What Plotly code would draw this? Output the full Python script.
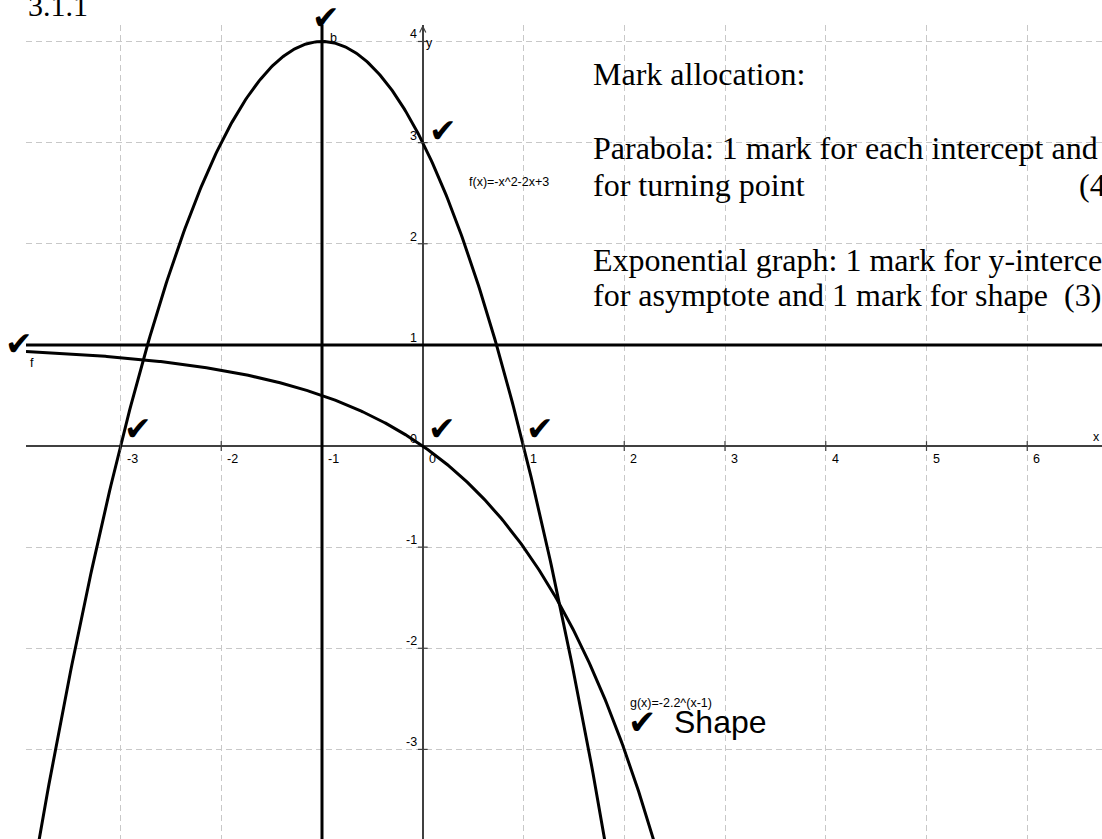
import numpy as np
import plotly.graph_objects as go

# ---- axes ----
x_ticks = [-3, -2, -1, 0, 1, 2, 3, 4, 5, 6]
y_ticks = [-3, -2, -1, 0, 1, 2, 3, 4]
x_range = [-3.938, 6.742]
y_range = [-3.886, 4.163]

# ---- parabola f(x) = -x^2 - 2x + 3 ----
f_coeffs = [-1, -2, 3]
f_roots = [-3, 1]
f_turning_point = [-1, 4]
f_y_intercept = [0, 3]
axis_of_symmetry = -1

# ---- exponential y = -2^x + 1 ----
g_base = 2
g_asymptote = 1
g_y_intercept = [0, 0]

SERIF = "Liberation Serif, Times New Roman, serif"
SANS = "Liberation Sans, Arial, sans-serif"
CHECK_FONT = "DejaVu Sans"
TICK = "\u2714"
AXIS_COLOR = "#404040"

xs = np.linspace(x_range[0], x_range[1], 800)

fig = go.Figure()

# parabola
fig.add_trace(go.Scatter(x=xs, y=np.polyval(f_coeffs, xs), mode="lines",
                         line=dict(color="black", width=3), hoverinfo="skip"))
# exponential
fig.add_trace(go.Scatter(x=xs, y=g_asymptote - np.power(float(g_base), xs), mode="lines",
                         line=dict(color="black", width=3), hoverinfo="skip"))

# axis of symmetry and asymptote
fig.add_vline(x=axis_of_symmetry, line=dict(color="black", width=3))
fig.add_hline(y=g_asymptote, line=dict(color="black", width=3))

# small tick marks on the axes
xt = [t for t in x_ticks if t != 0]
yt = [t for t in y_ticks if t != 0]
fig.add_trace(go.Scatter(x=xt, y=[0] * len(xt), mode="markers",
                         marker=dict(symbol="line-ns", size=7,
                                     line=dict(color=AXIS_COLOR, width=1.2)),
                         hoverinfo="skip"))
fig.add_trace(go.Scatter(x=[0] * len(yt), y=yt, mode="markers",
                         marker=dict(symbol="line-ew", size=7,
                                     line=dict(color=AXIS_COLOR, width=1.2)),
                         hoverinfo="skip"))

annotations = []


def note(text, x, y, size=12.5, family=SANS, xanchor="center", yanchor="middle",
         xshift=0, yshift=0, xref="x", yref="y"):
    annotations.append(dict(text=text, x=x, y=y, xref=xref, yref=yref,
                            showarrow=False, xanchor=xanchor, yanchor=yanchor,
                            xshift=xshift, yshift=yshift,
                            font=dict(family=family, size=size, color="black")))


def check(x, y, xshift, yshift, size=33):
    note(TICK, x, y, size=size, family=CHECK_FONT, xshift=xshift, yshift=yshift)


# tick labels
for t in x_ticks:
    note(str(t), t, 0, xanchor="left", xshift=4, yshift=-13)
for t in y_ticks:
    note(str(t), 0, t, xanchor="right", xshift=-4, yshift=7)

# axis names and arrow on the y-axis
note("y", 0, y_range[1], xshift=7, yshift=-18)
note("x", x_range[1], 0, xshift=-6, yshift=9)
annotations.append(dict(x=0, y=y_range[1], ax=0, ay=y_range[1] - 0.15,
                        xref="x", yref="y", axref="x", ayref="y",
                        showarrow=True, arrowhead=5, arrowsize=1, arrowwidth=1.2,
                        arrowcolor=AXIS_COLOR, text=""))

# object labels
note("f(x)=-x^2-2x+3", 0.439, 2.611, xanchor="left")
note("g(x)=-2.2^(x-1)", 2.039, -2.546, xanchor="left")
note("f", x_range[0], g_asymptote, xshift=6, yshift=-18)
note("b", f_turning_point[0], f_turning_point[1], xshift=11, yshift=3.5)

# ticks awarded
check(f_turning_point[0], f_turning_point[1], 4, 24)
check(f_y_intercept[0], f_y_intercept[1], 20, 12.5)
check(x_range[0], g_asymptote, -7, 1)
check(f_roots[0], 0, 17.5, 18)
check(f_roots[1], 0, 16.5, 18)
check(g_y_intercept[0], g_y_intercept[1], 19, 18)
check(2.18, -2.73, 0, 0, size=34)
note("Shape", 2.47, -2.725, size=32, family=SANS, xanchor="left")

# heading and mark allocation text
note("3.1.1", 0, 1.024, size=30, family=SERIF, xanchor="left", xref="paper", yref="paper")
note("Mark allocation:", 1.67, 3.679, size=32, family=SERIF, xanchor="left")
note("Parabola: 1 mark for each intercept and 1 mark", 1.67, 2.947, size=32, family=SERIF, xanchor="left")
note("for turning point", 1.67, 2.581, size=32, family=SERIF, xanchor="left")
note("(4)", 6.494, 2.581, size=32, family=SERIF, xanchor="left")
note("Exponential graph: 1 mark for y-intercept and 1 mark", 1.67, 1.839, size=32, family=SERIF, xanchor="left")
note("for asymptote and 1 mark for shape  (3)", 1.67, 1.493, size=32, family=SERIF, xanchor="left")

grid = dict(showgrid=True, gridcolor="#c8c8c8", gridwidth=1, griddash="6px,4px",
            dtick=1, tick0=0, ticks="", showticklabels=False, showline=False,
            zeroline=True, zerolinecolor=AXIS_COLOR)

fig.update_layout(
    width=1102, height=839,
    margin=dict(l=26, r=0, t=25, b=0),
    paper_bgcolor="white", plot_bgcolor="white",
    showlegend=False,
    xaxis=dict(range=x_range, zerolinewidth=1.5, **grid),
    yaxis=dict(range=y_range, zerolinewidth=2, **grid),
    annotations=annotations,
)

fig.write_html("out.html")
